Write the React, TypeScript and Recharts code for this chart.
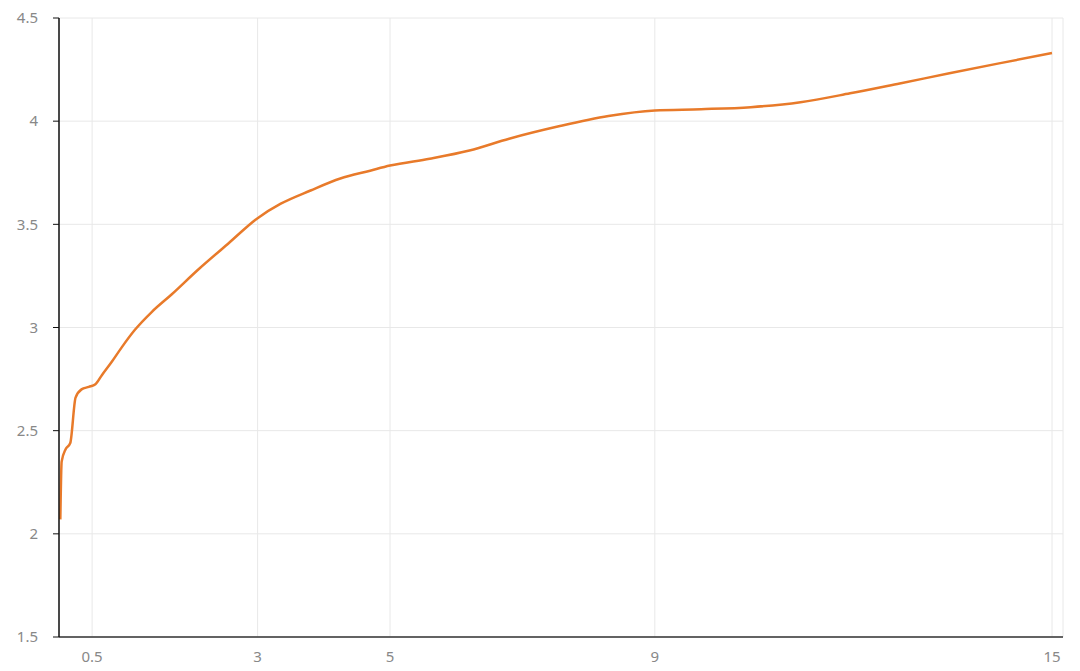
import React from 'react';
import { LineChart, Line, XAxis, YAxis, CartesianGrid } from 'recharts';

// values
const xValues = [
  0.02, 0.04, 0.1, 0.17, 0.25, 0.34, 0.45, 0.55, 0.65, 0.8, 0.95, 1.15, 1.4, 1.7,
  2.1, 2.55, 3.0, 3.35, 3.8, 4.25, 4.7, 5.0, 5.6, 6.2, 6.8, 7.55, 8.3, 9.0, 9.7,
  10.45, 11.2, 11.95, 12.7, 13.45, 14.2, 15.0,
];
const yValues = [
  2.07, 2.35, 2.41, 2.44, 2.66, 2.7, 2.712, 2.725, 2.77, 2.835, 2.905, 2.99, 3.075,
  3.16, 3.28, 3.405, 3.53, 3.6, 3.664, 3.722, 3.76, 3.785, 3.818, 3.858, 3.915,
  3.975, 4.025, 4.052, 4.058, 4.068, 4.092, 4.135, 4.183, 4.232, 4.28, 4.33,
];
const xTicks = [0.5, 3, 5, 9, 15];
const yTicks = [1.5, 2, 2.5, 3, 3.5, 4, 4.5];

const data = xValues.map((x, i) => ({ x, y: yValues[i] }));

const tickStyle = { fontFamily: '"Noto Sans", sans-serif', fontSize: 15, fill: '#888888' };

export default function App() {
  return (
    <div style={{ position: 'absolute', left: 0, top: 0, background: '#fff' }}>
      <LineChart width={1080} height={671} data={data} margin={{ top: 18, right: 17, bottom: 0, left: 0 }}>
        <CartesianGrid stroke="#e8e8e8" />
        <XAxis
          dataKey="x"
          type="number"
          domain={[0, 15]}
          ticks={xTicks}
          padding={{ left: 0, right: 11 }}
          height={34}
          tickLine={false}
          tickMargin={8}
          axisLine={{ stroke: '#333', strokeWidth: 1.5 }}
          tick={tickStyle}
        />
        <YAxis
          type="number"
          domain={[1.5, 4.5]}
          ticks={yTicks}
          width={59}
          tickSize={6}
          tickMargin={15}
          tickLine={{ stroke: '#111' }}
          axisLine={{ stroke: '#111', strokeWidth: 1.5 }}
          tick={tickStyle}
          interval={0}
        />
        <Line
          type="monotone"
          dataKey="y"
          stroke="#e87a2a"
          strokeWidth={2.5}
          dot={false}
          isAnimationActive={false}
        />
      </LineChart>
    </div>
  );
}
